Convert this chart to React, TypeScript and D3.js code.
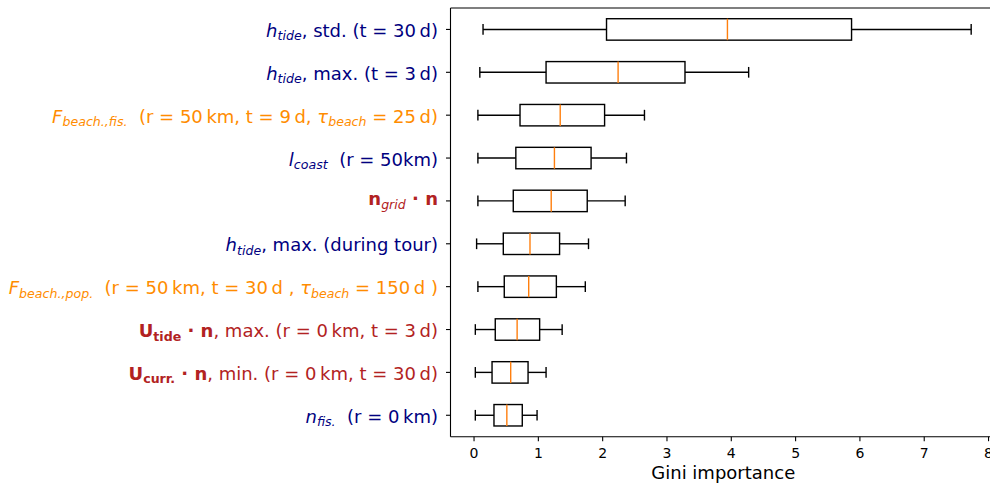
import React from "react";
import * as d3 from "d3";

// Feature rows, top to bottom. Each label is a list of [text, style] runs:
// r = regular, i = italic, b = bold, is = italic subscript, bs = bold subscript.
const featureLabels: [string, string][][] = [
  [["h", "i"], ["tide", "is"], [", std. (t = 30\u2009d)", "r"]],
  [["h", "i"], ["tide", "is"], [", max. (t = 3\u2009d)", "r"]],
  [["F", "i"], ["beach.,fis.", "is"], ["  (r = 50\u2009km, t = 9\u2009d, ", "r"], ["\u03c4", "i"], ["beach", "is"], [" = 25\u2009d)", "r"]],
  [["l", "i"], ["coast", "is"], ["  (r = 50km)", "r"]],
  [["n", "b"], ["grid", "is"], [" \u00b7 ", "b"], ["n", "b"]],
  [["h", "i"], ["tide", "is"], [", max. (during tour)", "r"]],
  [["F", "i"], ["beach.,pop.", "is"], ["  (r = 50\u2009km, t = 30\u2009d , ", "r"], ["\u03c4", "i"], ["beach", "is"], [" = 150\u2009d )", "r"]],
  [["U", "b"], ["tide", "bs"], [" \u00b7 ", "b"], ["n", "b"], [", max. (r = 0\u2009km, t = 3\u2009d)", "r"]],
  [["U", "b"], ["curr.", "bs"], [" \u00b7 ", "b"], ["n", "b"], [", min. (r = 0\u2009km, t = 30\u2009d)", "r"]],
  [["n", "i"], ["fis.", "is"], ["  (r = 0\u2009km)", "r"]],
];

const labelColors = ["navy", "navy", "darkorange", "navy", "firebrick", "navy", "darkorange", "firebrick", "firebrick", "navy"];

// Box statistics per row (same order as the labels)
const whiskerLow = [0.14, 0.09, 0.06, 0.06, 0.06, 0.04, 0.06, 0.02, 0.02, 0.02];
const quartile1 = [2.06, 1.12, 0.715, 0.65, 0.61, 0.455, 0.47, 0.33, 0.28, 0.31];
const medians = [3.94, 2.24, 1.34, 1.25, 1.2, 0.87, 0.85, 0.67, 0.57, 0.51];
const quartile3 = [5.87, 3.28, 2.03, 1.82, 1.76, 1.33, 1.28, 1.02, 0.84, 0.75];
const whiskerHigh = [7.73, 4.27, 2.65, 2.37, 2.35, 1.78, 1.73, 1.37, 1.12, 0.98];

const xTicks = [0, 1, 2, 3, 4, 5, 6, 7, 8];
const xLabel = "Gini importance";

const W = 990;
const H = 485;
const plot = { left: 450.5, right: 996, top: 8, bottom: 436.7 };
const FONT = "'DejaVu Sans', sans-serif";

function Label({ runs, color, x, y }: { runs: [string, string][]; color: string; x: number; y: number }) {
  let shift = 0;
  const onlyMath = !runs.some(([, s]) => s === "r");
  const base = y + (onlyMath ? 4.5 : 7.5);
  return (
    <text x={x} y={base} textAnchor="end" fill={color} fontFamily={FONT} fontSize={18} style={{ whiteSpace: "pre" }}>
      {runs.map(([t, s], i) => {
        const sub = s === "is" || s === "bs";
        const target = sub ? 3.5 : 0;
        const dy = target - shift;
        shift = target;
        return (
          <tspan
            key={i}
            dy={dy}
            fontSize={sub ? 12.6 : 18}
            fontStyle={s === "i" || s === "is" ? "italic" : "normal"}
            fontWeight={s === "b" || s === "bs" ? "bold" : "normal"}
          >
            {t}
          </tspan>
        );
      })}
    </text>
  );
}

export default function App() {
  const n = featureLabels.length;
  const x = d3.scaleLinear().domain([-0.366, 8.116]).range([plot.left, plot.right]);
  // row 0 at the top, position n; last row at position 1
  const y = d3.scaleLinear().domain([0.5, n + 0.5]).range([plot.bottom, plot.top]);
  const pos = (i: number) => y(n - i);
  const boxH = (y(0) - y(0.5));
  const capH = boxH / 2;
  const lw = 1.4;

  return (
    <svg width={W} height={H} style={{ position: "absolute", left: 0, top: 0, background: "#fff" }}>
      <rect x={0} y={0} width={W} height={H} fill="#fff" />
      {featureLabels.map((_, i) => {
        const cy = pos(i);
        return (
          <g key={i} stroke="#000" strokeWidth={lw} fill="none">
            <line x1={x(whiskerLow[i])} x2={x(quartile1[i])} y1={cy} y2={cy} />
            <line x1={x(quartile3[i])} x2={x(whiskerHigh[i])} y1={cy} y2={cy} />
            <line x1={x(whiskerLow[i])} x2={x(whiskerLow[i])} y1={cy - capH / 2} y2={cy + capH / 2} />
            <line x1={x(whiskerHigh[i])} x2={x(whiskerHigh[i])} y1={cy - capH / 2} y2={cy + capH / 2} />
            <rect x={x(quartile1[i])} y={cy - boxH / 2} width={x(quartile3[i]) - x(quartile1[i])} height={boxH} />
            <line x1={x(medians[i])} x2={x(medians[i])} y1={cy - boxH / 2} y2={cy + boxH / 2} stroke="#ff7f0e" />
          </g>
        );
      })}
      {/* spines */}
      <g stroke="#000" strokeWidth={1.1} fill="none">
        <line x1={plot.left} x2={plot.left} y1={plot.top} y2={plot.bottom} />
        <line x1={plot.left} x2={plot.right} y1={plot.top} y2={plot.top} />
        <line x1={plot.left} x2={plot.right} y1={plot.bottom} y2={plot.bottom} />
        <line x1={plot.right} x2={plot.right} y1={plot.top} y2={plot.bottom} />
      </g>
      {/* x axis ticks */}
      {xTicks.map((t) => (
        <g key={t}>
          <line x1={x(t)} x2={x(t)} y1={plot.bottom} y2={plot.bottom + 4.5} stroke="#000" strokeWidth={1.1} />
          <text x={x(t)} y={457.7} textAnchor="middle" fontFamily={FONT} fontSize={14} fill="#000">
            {t}
          </text>
        </g>
      ))}
      <text x={(plot.left + plot.right) / 2} y={479} textAnchor="middle" fontFamily={FONT} fontSize={18} fill="#000">
        {xLabel}
      </text>
      {/* y axis ticks and labels */}
      {featureLabels.map((runs, i) => (
        <g key={i}>
          <line x1={plot.left - 4.5} x2={plot.left} y1={pos(i)} y2={pos(i)} stroke="#000" strokeWidth={1.1} />
          <Label runs={runs} color={labelColors[i]} x={438} y={pos(i)} />
        </g>
      ))}
    </svg>
  );
}
